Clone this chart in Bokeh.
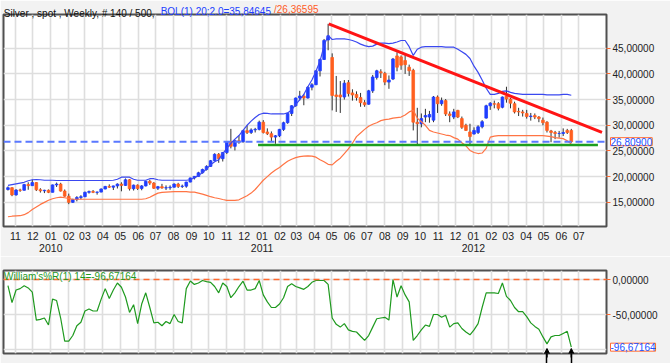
import pandas as pd
from bokeh.plotting import figure
from bokeh.models import (ColumnDataSource, FixedTicker, LinearAxis, Span, Label,
                          Arrow, NormalHead, Range1d)
from bokeh.layouts import column
from bokeh.embed import file_html
from bokeh.resources import INLINE

# ---------------- data (weekly silver spot) ----------------
first_week = "2009-10-19"
opens = [17.50, 17.85, 16.45, 17.40, 17.35, 18.45, 18.25, 18.85, 17.45, 17.25,
         17.35, 16.95, 18.40, 18.55, 17.20, 16.20, 15.00, 15.55, 15.95, 16.10,
         16.95, 17.10, 16.95, 17.00, 17.60, 18.10, 17.95, 18.20, 18.55, 18.30,
         19.40, 17.65, 18.35, 17.70, 18.20, 19.10, 18.75, 17.75, 18.05, 17.80,
         17.85, 17.95, 18.55, 18.10, 18.15, 18.95, 19.75, 20.05, 20.75, 21.40,
         22.00, 23.10, 24.35, 23.50, 24.70, 26.80, 25.90, 27.00, 26.80, 28.95,
         28.60, 29.10, 29.20, 30.60, 28.70, 28.35, 27.70, 27.95, 29.20, 30.50,
         32.30, 33.80, 35.30, 35.70, 35.30, 37.40, 37.90, 40.60, 42.80, 46.60,
         43.20, 35.90, 35.90, 35.50, 38.30, 36.30, 36.00, 35.40, 34.40, 34.10,
         36.70, 39.30, 40.40, 40.10, 38.40, 39.00, 43.50, 43.30, 42.60, 41.30,
         40.70, 30.60, 30.30, 31.60, 31.60, 31.00, 35.50, 34.20, 34.80, 32.20,
         31.60, 32.90, 31.30, 30.00, 28.70, 28.30, 28.60, 29.70, 31.40, 33.80,
         34.20, 34.20, 33.50, 35.70, 35.10, 34.20, 32.70, 32.60, 32.30, 31.70,
         31.90, 31.60, 31.00, 30.60, 28.90, 28.60, 28.40, 28.40, 29.00, 29.00]
highs = [18.10, 17.95, 17.55, 17.65, 18.60, 18.90, 19.40, 18.95, 17.75, 17.45,
         17.50, 18.45, 18.85, 18.80, 17.50, 16.70, 15.70, 16.20, 16.40, 17.10,
         17.30, 17.40, 17.10, 17.70, 18.20, 18.50, 18.25, 18.70, 18.90, 19.65,
         19.55, 18.45, 18.50, 18.35, 19.20, 19.40, 18.95, 18.20, 18.60, 18.30,
         18.30, 18.70, 18.80, 18.45, 19.00, 19.80, 20.10, 20.95, 21.55, 22.20,
         23.25, 24.55, 24.60, 24.80, 26.90, 29.30, 27.20, 28.00, 29.10, 30.00,
         29.40, 29.50, 30.90, 31.00, 29.40, 28.80, 28.10, 29.30, 30.70, 32.40,
         33.90, 35.40, 36.70, 36.10, 37.60, 38.20, 40.70, 43.00, 46.80, 49.75,
         44.00, 39.60, 38.60, 38.80, 38.80, 37.00, 36.60, 36.30, 34.90, 36.90,
         39.80, 40.80, 40.90, 40.40, 39.70, 43.10, 44.20, 43.60, 43.90, 41.80,
         41.00, 33.40, 32.30, 33.20, 32.80, 35.70, 35.80, 35.40, 35.10, 32.70,
         33.20, 33.00, 31.70, 30.30, 30.30, 29.60, 30.00, 31.00, 34.00, 34.50,
         34.80, 34.50, 35.60, 37.50, 35.30, 34.60, 33.40, 33.00, 33.00, 32.40,
         32.30, 31.80, 31.50, 30.80, 29.10, 28.90, 28.90, 29.40, 29.30, 29.30]
lows = [17.30, 16.20, 16.30, 17.05, 17.30, 17.45, 18.20, 17.20, 16.90, 16.80,
        16.80, 16.95, 18.00, 17.10, 16.10, 14.65, 14.90, 15.20, 15.60, 16.00,
        16.70, 16.80, 16.50, 16.95, 17.55, 17.80, 17.40, 17.70, 17.15, 18.20,
        17.30, 17.30, 17.40, 17.35, 18.10, 18.40, 17.60, 17.40, 17.65, 17.40,
        17.45, 17.90, 17.80, 17.80, 17.85, 18.90, 19.45, 20.00, 20.60, 21.20,
        21.90, 23.00, 22.70, 22.95, 24.40, 25.50, 25.10, 26.40, 26.60, 28.30,
        28.30, 28.60, 29.00, 28.40, 28.10, 26.90, 26.40, 27.70, 28.90, 30.30,
        31.80, 33.60, 34.80, 33.90, 35.20, 36.80, 37.80, 39.50, 42.70, 44.60,
        32.90, 32.60, 32.40, 35.00, 35.60, 34.80, 34.80, 33.60, 33.60, 34.00,
        36.30, 38.90, 39.20, 37.80, 37.10, 38.80, 40.50, 40.80, 40.00, 39.60,
        29.00, 26.10, 29.60, 30.60, 30.50, 30.60, 32.40, 33.80, 31.80, 30.60,
        31.20, 31.40, 29.30, 28.90, 26.20, 28.20, 28.30, 29.40, 31.30, 33.00,
        33.30, 32.90, 33.30, 34.40, 33.30, 32.30, 31.80, 31.70, 31.30, 30.90,
        31.20, 30.60, 30.00, 28.60, 26.70, 27.30, 27.60, 27.90, 28.30, 26.60]
closes = [17.85, 16.45, 17.40, 17.35, 18.45, 18.25, 18.85, 17.45, 17.25, 17.35,
          16.95, 18.40, 18.55, 17.20, 16.20, 15.00, 15.55, 15.95, 16.10, 16.95,
          17.10, 16.95, 17.00, 17.60, 18.10, 17.95, 18.20, 18.55, 18.30, 19.40,
          17.65, 18.35, 17.70, 18.20, 19.10, 18.75, 17.75, 18.05, 17.80, 17.85,
          17.95, 18.55, 18.10, 18.15, 18.95, 19.75, 20.05, 20.75, 21.40, 22.00,
          23.10, 24.35, 23.50, 24.70, 26.80, 25.90, 27.00, 26.80, 28.95, 28.60,
          29.10, 29.20, 30.60, 28.60, 28.35, 27.70, 27.95, 29.20, 30.50, 32.30,
          33.80, 35.30, 35.70, 35.30, 37.40, 37.90, 40.60, 42.80, 46.50, 47.40,
          35.80, 35.60, 35.50, 38.20, 36.20, 35.90, 35.40, 34.40, 34.00, 36.70,
          39.40, 40.60, 40.20, 38.40, 38.80, 42.90, 41.30, 41.70, 41.80, 40.60,
          30.60, 30.30, 31.30, 31.90, 32.10, 35.50, 34.20, 34.80, 32.20, 31.90,
          32.60, 31.60, 29.60, 29.00, 27.80, 29.00, 29.70, 30.70, 33.80, 34.30,
          34.10, 33.30, 35.50, 35.10, 34.30, 32.60, 32.60, 32.40, 31.70, 31.80,
          31.60, 31.30, 30.50, 29.00, 28.60, 28.40, 28.40, 28.60, 28.60, 26.809]
boll_upper = [18.3, 18.45, 18.6, 18.75, 18.9, 19.2, 19.4, 19.45, 19.4, 19.3,
              19.3, 19.3, 19.25, 19.25, 19.25, 19.25, 19.25, 19.25, 19.25, 19.25,
              19.25, 19.25, 19.25, 19.25, 19.25, 19.25, 19.3, 19.5, 19.9, 19.9,
              19.9, 19.5, 19.3, 19.3, 19.3, 19.6, 19.6, 19.4, 19.3, 19.3,
              19.3, 19.3, 19.3, 19.3, 19.3, 19.4, 19.8, 20.2, 20.8, 21.5,
              22.3, 22.9, 23.3, 24.5, 25.5, 26.5, 27.3, 28.0, 29.0, 30.0,
              30.8, 31.5, 32.1, 32.35, 32.3, 32.2, 32.2, 32.2, 32.2, 32.4,
              33.0, 34.0, 35.0, 36.0, 37.5, 38.8, 40.5, 42.5, 45.5, 47.5,
              46.7, 46.8, 46.8, 46.8, 46.7, 46.5, 46.2, 45.8, 45.5, 45.3,
              45.4, 45.8, 46.0, 46.0, 45.9, 46.0, 46.2, 46.5, 46.5, 45.3,
              43.6, 44.8, 45.2, 45.3, 45.3, 45.3, 45.3, 45.3, 45.2, 45.2,
              45.2, 44.8, 44.3, 43.8, 43.0, 41.5, 40.3, 38.8, 37.2, 36.0,
              36.0, 36.2, 36.6, 36.7, 36.4, 36.2, 36.1, 36.0, 36.0, 36.0,
              36.0, 36.0, 36.0, 35.9, 35.9, 35.9, 35.9, 36.0, 36.0, 35.85]
boll_lower = [12.2, 12.3, 12.35, 12.4, 12.6, 13.0, 13.6, 14.1, 14.6, 15.0,
              15.4, 15.7, 15.9, 16.0, 15.9, 15.75, 15.6, 15.6, 15.6, 15.6,
              15.6, 15.6, 15.6, 15.6, 15.6, 15.6, 15.6, 15.6, 15.6, 15.6,
              15.6, 15.6, 15.6, 15.6, 15.7, 16.0, 16.4, 16.8, 16.95, 17.0,
              17.05, 17.1, 17.1, 17.1, 17.1, 17.0, 17.0, 16.8, 16.6, 16.35,
              16.1, 15.9, 15.75, 15.55, 15.4, 15.4, 15.4, 15.5, 15.9, 16.3,
              16.8, 17.5, 18.4, 19.3, 20.0, 20.7, 21.3, 21.8, 22.4, 23.0,
              23.4, 23.7, 23.9, 24.0, 24.05, 24.0, 23.8, 23.3, 22.9, 22.4,
              22.3, 23.0, 23.6, 24.5, 25.4, 26.5, 27.8, 28.5, 29.2, 29.8,
              30.2, 30.5, 30.9, 31.1, 31.2, 31.4, 31.5, 31.6, 32.0, 32.6,
              32.9, 31.4, 30.7, 30.0, 29.0, 28.7, 28.5, 28.3, 28.1, 28.0,
              27.6, 27.3, 26.6, 26.0, 25.1, 24.7, 24.5, 24.6, 25.5, 27.7,
              27.9, 28.0, 28.0, 28.0, 28.0, 28.0, 28.0, 28.0, 28.0, 28.0,
              28.0, 28.0, 28.0, 27.9, 27.8, 27.6, 27.5, 27.4, 27.0, 26.37]
williams_r = [-8.6, -33, -15, -13, -9, -12, -18, -58, -57, -55,
              -65, -28, -30, -55, -88, -88, -80, -66, -61, -45,
              -42, -45, -45, -28, -13, -27, -15, -5, -11, -25,
              -47, -36, -63, -35, -19, -40, -62, -61, -66, -60,
              -63, -50, -60, -62, -13, -2, -7, -5, -1.4, -3,
              -4, -10, -19, -5, -10, -26, -19, -10, -2.4, -15,
              -15, -13, -1.4, -22, -32, -40, -40, -35, -26, -10,
              -6, -10, -12, -14, -10, -4, -1.4, -1.4, -1.4, -7,
              -55, -64, -68, -63, -72, -74, -75, -81, -87, -80,
              -68, -56, -55, -54, -58, 0, -25, -9, -22, -32,
              -87, -80, -72, -65, -67, -50, -50, -54, -51, -68,
              -63, -62, -70, -75, -79, -72, -63, -40, -19, -19,
              -19, -20, -5, -24, -30, -40, -46, -46, -53, -62,
              -67, -71, -82, -92, -82, -80, -80, -77, -74, -96.67164]
last_close = 26.809
last_wr = -96.67164
trend_dates = ["2011-04-26", "2012-08-10"]
trend_values = [49.75, 28.6]
support_dates = ["2010-12-25", "2012-08-03"]
support_value = 26.15
arrow_weeks = [133, 139]
price_ticks = [15, 20, 25, 30, 35, 40, 45]
wr_ticks = [0, -50]
title_parts = ["Silver , spot , Weekly, # 140 / 500,", "BOL(1) 20;2.0=35,84645", "/26,36595"]
wr_label = "William's%R(1) 14=-96,67164"

# ---------------- derived positions ----------------
BASE = pd.Timestamp("2009-10-01")
def day(s):
    return (pd.Timestamp(s) - BASE).days

dates = pd.date_range(first_week, periods=len(closes), freq="7D")
xd = [(d - BASE).days for d in dates]
months = pd.date_range("2009-11-01", "2012-07-01", freq="MS")
month_ticks = [(m - BASE).days for m in months]
month_labels = {(m - BASE).days: f"{m.month:02d}" for m in months}
years = [pd.Timestamp(f"{y}-01-01") for y in (2010, 2011, 2012)]
year_ticks = [(y - BASE).days for y in years]
year_labels = {(y - BASE).days: str(y.year) for y in years}

X0, X1 = 10.3, 1051.8
Y0, Y1 = 10.3, 51.56
W = 670
ML, MR = 3, 64
FRAME_W = W - ML - MR
DPP = (X1 - X0) / FRAME_W

UP, DOWN = "#1f3dff", "#ff5f1f"
FONT = "Liberation Sans"
BG = "#f2f2f2"
GRID = "#dedede"
TXT = "#222222"

src = ColumnDataSource(dict(
    x=xd, o=opens, h=highs, l=lows, c=closes,
    top=[max(a, b) for a, b in zip(opens, closes)],
    bottom=[min(a, b) for a, b in zip(opens, closes)],
    color=[UP if c >= o else DOWN for o, c in zip(opens, closes)],
))


def style_right_axis(ax, ticks, overrides):
    ax.ticker = FixedTicker(ticks=ticks)
    ax.major_label_overrides = overrides
    ax.axis_line_color = None
    ax.major_tick_line_color = "#ff6a30"
    ax.major_tick_in = 0
    ax.major_tick_out = 4
    ax.minor_tick_line_color = None
    ax.minor_tick_in = 0
    ax.minor_tick_out = 0
    ax.major_label_standoff = 2
    ax.major_label_text_font = FONT
    ax.major_label_text_font_size = "10px"
    ax.major_label_text_color = TXT


def value_box(x, y, text):
    return Label(x=x, y=y, text=text, text_color="#2050ff", text_font=FONT,
                 text_font_size="10px", text_baseline="middle",
                 background_fill_color="white", border_line_color="#ff6a30",
                 border_line_width=1, padding=0)


# ---------------- main price chart ----------------
p = figure(width=W, height=256, x_range=Range1d(X0, X1), y_range=Range1d(Y0, Y1),
           toolbar_location=None, output_backend="svg", y_axis_location="right",
           title_location=None,
           min_border_left=ML, min_border_right=MR, min_border_top=14, min_border_bottom=30,
           background_fill_color="white", border_fill_color=BG,
           outline_line_color="#505050", outline_line_width=2)

xa = p.xaxis[0]
xa.ticker = FixedTicker(ticks=month_ticks)
xa.major_label_overrides = month_labels
xa.axis_line_color = None
xa.major_tick_line_color = None
xa.minor_tick_line_color = None
xa.major_tick_in = 0
xa.major_tick_out = 0
xa.minor_tick_in = 0
xa.minor_tick_out = 0
xa.major_label_standoff = 5
xa.major_label_text_font = FONT
xa.major_label_text_font_size = "10.5px"
xa.major_label_text_color = TXT

yax = LinearAxis(ticker=FixedTicker(ticks=year_ticks), major_label_overrides=year_labels,
                 axis_line_color=None, major_tick_line_color=None, minor_tick_line_color=None,
                 major_tick_in=0, major_tick_out=0, minor_tick_in=0, minor_tick_out=0,
                 major_label_standoff=1, major_label_text_font=FONT,
                 major_label_text_font_size="10.5px", major_label_text_color=TXT)
p.add_layout(yax, "below")

style_right_axis(p.yaxis[0], price_ticks, {v: f"{v},00000" for v in price_ticks})

p.xgrid.ticker = FixedTicker(ticks=month_ticks)
p.ygrid.ticker = FixedTicker(ticks=price_ticks)
p.grid.grid_line_color = GRID
p.grid.grid_line_width = 1.6

p.segment(x0="x", y0="h", x1="x", y1="l", source=src, line_color="#303030", line_width=1)
p.vbar(x="x", width=4.6, top="top", bottom="bottom", source=src,
       fill_color="color", line_color="color", line_width=0.8)

p.line(xd, boll_upper, line_color="#3a48f0", line_width=1.2)
p.line(xd, boll_lower, line_color="#ff7444", line_width=1.2)

p.add_layout(Span(location=last_close, dimension="width", line_color="#5a78ff",
                  line_dash="7 4", line_width=2))
p.line([day(s) for s in support_dates], [support_value, support_value],
       line_color="#1e9e1e", line_width=2.5)
p.line([day(s) for s in trend_dates], trend_values, line_color="#ff1414", line_width=3)

# last-price box lives in the top side panel (so it is not clipped to the frame)
p.add_layout(value_box(X1 + 4 * DPP, last_close, "26,80900"), "above")

# title: three coloured pieces as tick labels of zero-height axes above the frame
title_colors = ["#111111", "#2040ff", "#ff5a1f"]
title_centers = [75.9, 212.5, 292.7]
for txt, col, cx in zip(title_parts, title_colors, title_centers):
    t = int(round(X0 + cx * DPP))
    p.add_layout(LinearAxis(ticker=FixedTicker(ticks=[t]), major_label_overrides={t: txt},
                            axis_line_color=None, major_tick_line_color=None,
                            minor_tick_line_color=None, major_tick_in=0, major_tick_out=0,
                            minor_tick_in=0, minor_tick_out=0,
                            major_label_standoff=-12, major_label_text_font=FONT,
                            major_label_text_font_size="10px", major_label_text_color=col),
                 "above")

# ---------------- Williams %R panel ----------------
p2 = figure(width=W, height=107, x_range=p.x_range, y_range=Range1d(-105.7, 12.9),
            toolbar_location=None, output_backend="svg", y_axis_location="right",
            x_axis_location=None, title_location=None,
            min_border_left=ML, min_border_right=MR, min_border_top=14, min_border_bottom=10,
            background_fill_color="white", border_fill_color=BG,
            outline_line_color="#505050", outline_line_width=2)
style_right_axis(p2.yaxis[0], wr_ticks, {0: "0,00000", -50: "-50,00000"})
p2.xgrid.ticker = FixedTicker(ticks=month_ticks)
p2.ygrid.ticker = FixedTicker(ticks=[0, -50, -100])
p2.grid.grid_line_color = GRID
p2.grid.grid_line_width = 1.6

p2.add_layout(Span(location=0, dimension="width", line_color="#ff6a30",
                   line_dash="6 4", line_width=1.5))
p2.line(xd, williams_r, line_color="#1f9a1f", line_width=1.2)

arrow_x = [xd[w] for w in arrow_weeks]
for ax_ in arrow_x:
    p2.add_layout(Arrow(end=NormalHead(size=9, fill_color="black", line_color="black"),
                        x_start=ax_, y_start=-140, x_end=ax_, y_end=-98.6,
                        line_color="black", line_width=1.5))
# arrow stems continuing below the frame, drawn as outward ticks of a bare axis
p2.add_layout(LinearAxis(ticker=FixedTicker(ticks=arrow_x),
                         major_label_overrides={v: "" for v in arrow_x},
                         axis_line_color=None, major_tick_line_color="black",
                         major_tick_line_width=1.5, major_tick_in=0, major_tick_out=10,
                         minor_tick_line_color=None, minor_tick_in=0, minor_tick_out=0,
                         major_label_standoff=0, major_label_text_font_size="1px"),
              "below")

p2.add_layout(Label(x=X0 + 1, y=12.9, text=wr_label, text_color="#1f9a1f",
                    text_font=FONT, text_font_size="10px", text_baseline="top"))
p2.add_layout(value_box(X1 + 4 * DPP, last_wr, "-96,67164"), "above")

layout = column(p, p2, spacing=0)
open("out.html", "w").write(file_html(layout, INLINE))
